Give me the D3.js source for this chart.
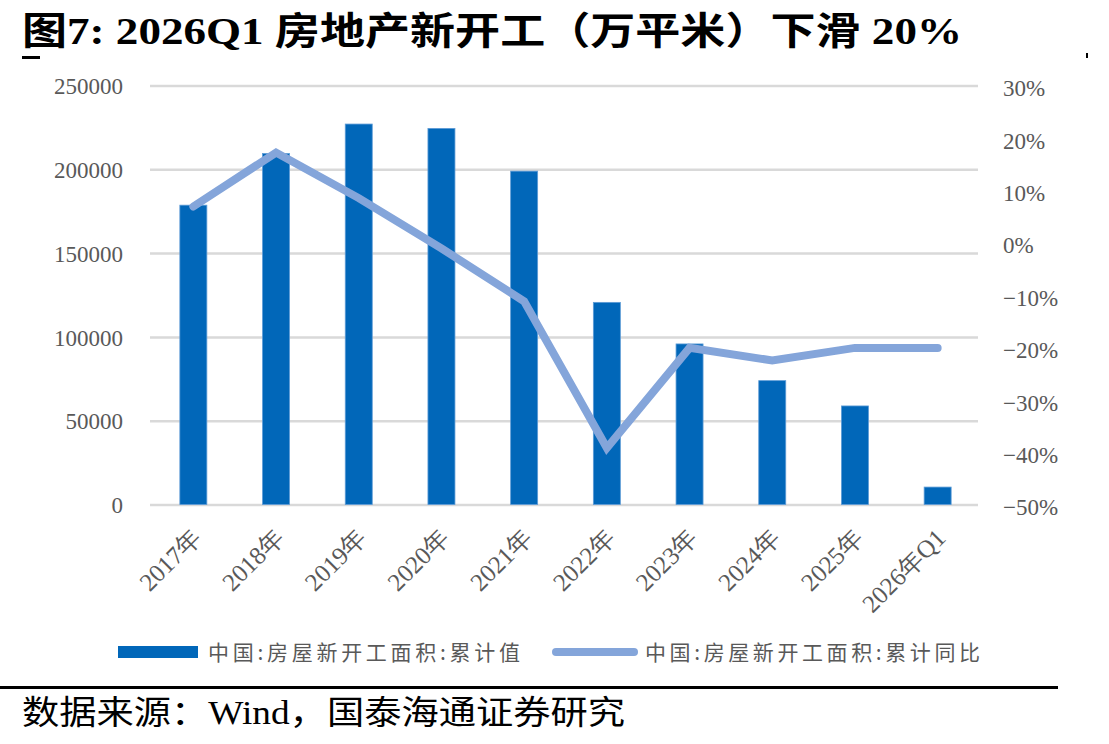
<!DOCTYPE html>
<html>
<head>
<meta charset="utf-8">
<script src="https://cdn.jsdelivr.net/npm/d3@7"></script>
<style>
  body { margin: 0; background: #fff; }
  svg { display: block; }
  .axis text { font-family: "Liberation Serif", "Times New Roman", serif; fill: #595959; }
</style>
</head>
<body>
<svg id="chart" width="1109" height="744"></svg>
<script>
// categories + two series
var years = ['2017年', '2018年', '2019年', '2020年', '2021年',
             '2022年', '2023年', '2024年', '2025年', '2026年Q1'];

var area = [178600, 209400, 227000, 224400, 198900,
            120600, 95800, 73900, 58800, 10400];   // 万平米

var yoy = [0.069, 0.172, 0.085, -0.011, -0.112,
           -0.392, -0.201, -0.225, -0.201, -0.201];

var leftTicks = [0, 50000, 100000, 150000, 200000, 250000];
var rightTicks = [-0.5, -0.4, -0.3, -0.2, -0.1, 0, 0.1, 0.2, 0.3];

var barColor = "#0167B9", lineColor = "#84A5DA";

var svg = d3.select("#chart");

// title
svg.append("text")
  .attr("x", 22).attr("y", 44)
  .attr("textLength", 940).attr("lengthAdjust", "spacingAndGlyphs")
  .style("font-family", "'Liberation Serif', 'Noto Sans CJK SC', serif")
  .style("font-weight", "bold").style("font-size", "38px").style("fill", "#000")
  .text("图7:  2026Q1 房地产新开工（万平米）下滑 20%");

// little marks under the title
svg.append("rect").attr("x", 22).attr("y", 56).attr("width", 18).attr("height", 3).attr("fill", "#000");
svg.append("rect").attr("x", 1086).attr("y", 53).attr("width", 2).attr("height", 5).attr("fill", "#000");

// plot box (window.top is reserved, so prefixed names)
var pLeft = 152, pRight = 979, pTop = 85.5, pBottom = 504.5;

var x = d3.scaleBand().domain(years).range([pLeft, pRight]).padding(0);
var y = d3.scaleLinear().domain([0, 250000]).range([pBottom, pTop]);
var y2 = d3.scaleLinear().domain([-0.5, 0.3]).range([pBottom, pTop]);

// gridlines + left labels
var gy = svg.append("g").attr("class", "axis")
  .attr("transform", "translate(" + (pLeft - 2) + ",0)")
  .call(d3.axisLeft(y).tickValues(leftTicks).tickSize(-(pRight - pLeft + 1)).tickPadding(27).tickFormat(d3.format("d")));
gy.select(".domain").remove();
gy.selectAll(".tick line").attr("stroke", "#D9D9D9").attr("stroke-width", 2.5);
gy.selectAll(".tick text").style("font-size", "23px").attr("dy", "0.36em");

// right labels
var gr = svg.append("g").attr("class", "axis")
  .attr("transform", "translate(" + pRight + ",0)")
  .call(d3.axisRight(y2).tickValues(rightTicks).tickSize(0).tickPadding(24).tickFormat(d3.format(".0%")));
gr.select(".domain").remove();
gr.selectAll(".tick text").style("font-size", "23px").attr("dy", "0.45em");

// bars
var bw = 27;
svg.append("g").selectAll("rect")
  .data(area)
  .join("rect")
  .attr("x", function(d, i){ return x(years[i]) + x.bandwidth() / 2 - bw / 2; })
  .attr("y", function(d){ return y(d); })
  .attr("width", bw)
  .attr("height", function(d){ return y(0) - y(d); })
  .attr("fill", barColor)
  .attr("stroke", "#5E9BD6").attr("stroke-width", 0.8);

// line
var line = d3.line()
  .x(function(d, i){ return x(years[i]) + x.bandwidth() / 2; })
  .y(function(d){ return y2(d); });

svg.append("path")
  .datum(yoy)
  .attr("d", line)
  .attr("fill", "none")
  .attr("stroke", lineColor)
  .attr("stroke-width", 8)
  .attr("stroke-linecap", "round")
  .attr("stroke-linejoin", "miter");

// x labels, rotated
svg.append("g").attr("class", "axis").selectAll("text")
  .data(years)
  .join("text")
  .attr("transform", function(d){ return "translate(" + (x(d) + x.bandwidth() / 2 - 3) + ",527) rotate(-45)"; })
  .attr("text-anchor", "end")
  .attr("dy", "0.7em")
  .style("font-size", "25px")
  .text(function(d){ return d; });

// legend
var lg = svg.append("g").style("font-family", "'Noto Sans CJK SC', sans-serif").style("font-size", "21px").style("fill", "#595959");
lg.append("rect").attr("x", 118).attr("y", 646).attr("width", 80).attr("height", 12).attr("fill", barColor);
lg.append("text").attr("x", 208).attr("y", 660).attr("textLength", 312).text("中国:房屋新开工面积:累计值");
lg.append("line").attr("x1", 556).attr("x2", 634).attr("y1", 652).attr("y2", 652)
  .attr("stroke", lineColor).attr("stroke-width", 8).attr("stroke-linecap", "round");
lg.append("text").attr("x", 645).attr("y", 660).attr("textLength", 335).text("中国:房屋新开工面积:累计同比");

// source
svg.append("rect").attr("x", 0).attr("y", 686).attr("width", 1058).attr("height", 3).attr("fill", "#000");
svg.append("text")
  .attr("x", 22).attr("y", 724)
  .attr("textLength", 603).attr("lengthAdjust", "spacingAndGlyphs")
  .style("font-family", "'Liberation Serif', 'Noto Sans CJK SC', serif")
  .style("font-size", "33px").style("fill", "#000")
  .text("数据来源：Wind，国泰海通证券研究");
</script>
</body>
</html>
